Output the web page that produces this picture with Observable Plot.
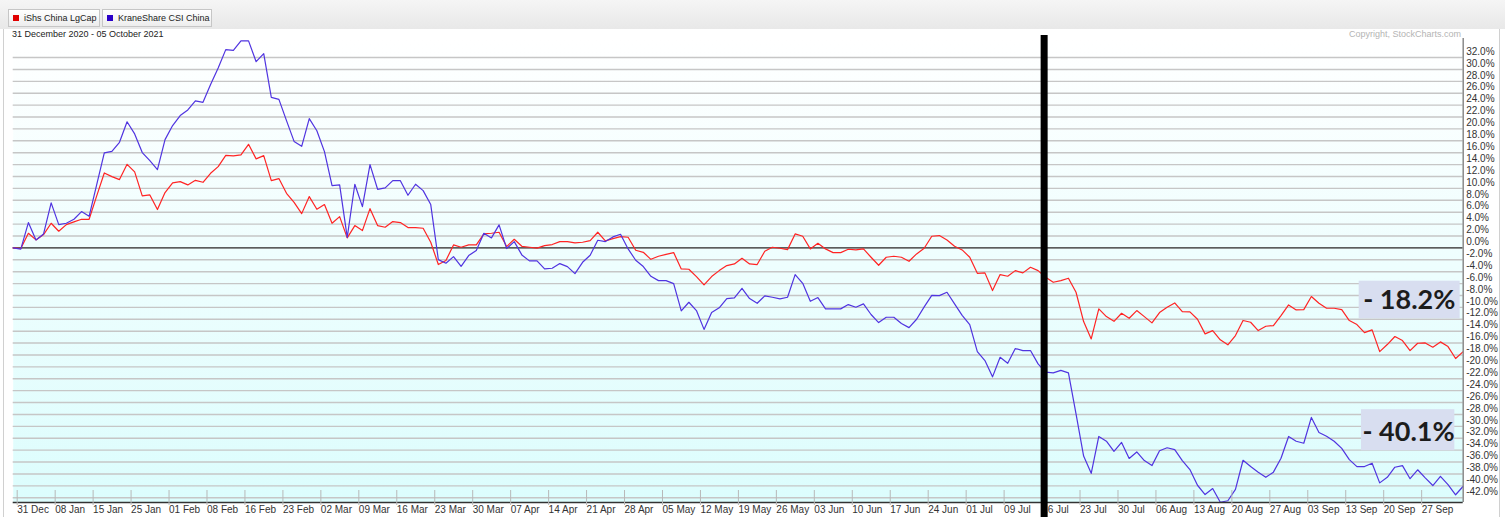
<!DOCTYPE html>
<html><head><meta charset="utf-8">
<script src="https://cdn.jsdelivr.net/npm/d3@7"></script>
<script src="https://cdn.jsdelivr.net/npm/@observablehq/plot@0.6"></script>
<style>
html,body{margin:0;padding:0;background:#fff;}
body{width:1505px;height:517px;overflow:hidden;position:relative;font-family:"Liberation Sans",Arial,sans-serif;}
#top{position:absolute;left:0;top:0;width:1505px;height:29px;background:linear-gradient(#f5f5f5,#e8e8e8);}
.btn{position:absolute;top:9px;height:18px;border:1px solid #c6c6c6;background:linear-gradient(#ffffff,#ededed);font-size:9px;line-height:16px;color:#222;box-sizing:border-box;padding-left:15px;white-space:nowrap;}
.sw{position:absolute;left:4px;top:5px;width:6px;height:6px;}
#frame{position:absolute;left:3px;top:29px;width:1497px;height:488px;border-left:1px solid #d0d0d0;border-right:1px solid #d0d0d0;box-sizing:border-box;}
#sub{position:absolute;left:12px;top:29px;font-size:9px;color:#222;z-index:2;}
#copy{position:absolute;right:44px;top:29px;font-size:9px;color:#b4b4b4;z-index:2;}
#chart{position:absolute;left:0;top:30px;}
</style>
</head><body>
<div id="top"></div>
<div id="frame"></div>
<div id="legend"></div>
<div id="sub"></div>
<div id="copy"></div>
<div id="chart"></div>
<script>
// ---- data (percent change since 31 Dec 2020, one value per trading day) ----
const seriesNames = ["iShs China LgCap", "KraneShare CSI China"];
const seriesColors = ["#ff2424", "#5034e0"];
const swatchColors = ["#e00000", "#2a00c8"];
const subtitle = "31 December 2020 - 05 October 2021";
const copyright = "Copyright, StockCharts.com";

const lgcap = [0,-0.1,2.46,1.34,2.24,4.14,2.8,3.92,4.37,4.81,4.81,8.74,12.6,11.98,11.48,14.05,12.77,8.74,8.9,6.44,
9.3,10.92,11.14,10.59,11.36,11.03,12.54,13.66,15.56,15.46,15.63,17.41,14.96,15.51,11.31,11.65,9.18,7.66,5.76,8.62,
6.49,7.28,4.14,5.26,1.68,3.75,2.91,6.6,3.75,3.47,4.42,4.25,3.41,3.41,3.3,0.95,-2.8,-2.13,0.5,0.11,
0.5,0.5,2.35,2.46,2.63,0.22,1.45,0.27,0.11,-0.03,0.39,0.56,1.06,1.06,0.84,0.95,1.23,2.63,1.17,1.57,
1.9,1.79,-0.4,-0.74,-1.92,-1.41,-1.08,-0.79,-3.53,-3.59,-4.82,-6.22,-4.82,-3.82,-2.97,-2.69,-1.75,-2.69,-2.8,-0.57,
0.11,-0.06,-0.29,2.35,1.96,-0.17,0.78,-0.17,-0.79,-0.79,-0.23,-0.34,-0.17,-1.57,-2.92,-1.57,-1.4,-1.57,-2.25,-1.01,
-0.06,1.96,2.07,1.34,0.28,-0.34,-1.57,-4.27,-4.2,-7.18,-4.49,-4.77,-3.82,-4.2,-3.26,-3.82,-4.94,-5.78,-5.5,-5.1,
-7.46,-12.39,-15.3,-10.25,-11.55,-12.34,-10.99,-11.83,-10.54,-11.55,-12.6,-10.87,-9.98,-9.25,-10.71,-10.76,-12.0,-14.45,-13.9,-15.46,
-16.3,-14.74,-12.2,-12.5,-13.9,-13.17,-13.06,-11.38,-9.58,-10.42,-10.37,-8.18,-9.31,-10.15,-10.15,-10.37,-12.22,-12.89,-14.24,-13.78,
-17.43,-16.25,-14.9,-15.58,-17.26,-16.03,-15.97,-16.7,-15.8,-16.59,-18.6,-17.43];

const krane = [0,-0.22,4.25,1.34,2.35,7.56,3.92,4.14,4.81,6.1,5.31,10.64,15.97,16.24,17.75,21.2,19.16,16.02,14.67,13.16,
18.2,20.56,22.24,23.19,24.7,24.47,27.45,30.25,33.33,33.2,34.8,34.8,31.3,32.66,25.3,24.97,21.4,17.9,17.07,21.73,
19.7,16.18,10.47,10.59,1.78,10.7,6.94,14.0,9.85,10.08,11.3,11.3,8.85,10.7,9.63,7.28,-1.97,-2.58,-1.46,-3.1,
-1.29,-0.45,2.46,1.68,3.87,-0.11,1.06,-1.18,-2.18,-2.18,-3.53,-3.42,-2.64,-3.14,-4.32,-2.42,-1.24,1.28,1.06,1.85,
2.29,-0.17,-2.08,-3.14,-4.77,-5.5,-5.5,-6.0,-10.6,-9.14,-10.54,-13.7,-10.87,-10.08,-8.52,-8.4,-6.79,-8.52,-9.31,-8.07,
-8.3,-8.57,-8.3,-4.49,-5.95,-8.97,-8.35,-10.25,-10.25,-10.25,-9.53,-9.98,-9.41,-11.2,-12.55,-11.66,-11.66,-12.72,-13.4,-12.0,
-9.92,-7.97,-8.02,-7.46,-9.41,-11.33,-12.89,-17.43,-18.94,-21.68,-18.39,-19.4,-16.92,-17.26,-17.26,-19.5,-20.9,-21.0,-20.6,-21.0,
-27.9,-35.0,-37.9,-31.7,-32.5,-34.2,-32.7,-35.4,-34.3,-35.75,-36.6,-34.1,-33.6,-33.9,-35.75,-37.26,-39.9,-41.46,-40.45,-42.76,
-42.5,-40.6,-35.7,-36.76,-37.7,-38.56,-37.7,-35.36,-31.7,-32.5,-32.84,-28.5,-31.04,-31.66,-32.5,-33.7,-35.6,-36.76,-36.76,-36.2,
-39.5,-38.56,-36.87,-36.6,-38.8,-37.3,-38.66,-39.95,-38.4,-39.8,-41.5,-40.07];

// x-axis labels, one every 5 trading days starting at day 0
const tickLabels = ["31 Dec","08 Jan","15 Jan","25 Jan","01 Feb","08 Feb","16 Feb","23 Feb","02 Mar","09 Mar",
"16 Mar","23 Mar","30 Mar","07 Apr","14 Apr","21 Apr","28 Apr","05 May","12 May","19 May","26 May","03 Jun",
"10 Jun","17 Jun","24 Jun","01 Jul","09 Jul","16 Jul","23 Jul","30 Jul","06 Aug","13 Aug","20 Aug","27 Aug",
"03 Sep","13 Sep","20 Sep","27 Sep"];
const tickStep = 5;
const yTicks = d3.range(32, -43, -2);
const annotationLabels = ["- 18.2%", "- 40.1%"];

// ---- header ----
const legend = document.getElementById("legend");
const btnLeft = [8, 102], btnWidth = [92, 110];
seriesNames.forEach((n, k) => {
  const b = document.createElement("div");
  b.className = "btn";
  b.style.left = btnLeft[k] + "px";
  b.style.width = btnWidth[k] + "px";
  b.textContent = n;
  const s = document.createElement("span");
  s.className = "sw";
  s.style.background = swatchColors[k];
  b.appendChild(s);
  legend.appendChild(b);
});
document.getElementById("sub").textContent = subtitle;
document.getElementById("copy").textContent = copyright;

// ---- chart ----
const lgData = lgcap.map((v, i) => ({i, v}));
const krData = krane.map((v, i) => ({i, v}));
const last = lgcap.length - 1;
const tickIdx = tickLabels.map((_, k) => k * tickStep);
const yMin = -42.8, yMax = 35.2;

const chart = Plot.plot({
  width: 1505, height: 487,
  marginLeft: 12.7, marginRight: 42.3, marginTop: 8, marginBottom: 15,
  x: {type: "linear", domain: [0, last], axis: null, label: null},
  y: {domain: [yMin, yMax], axis: null, label: null},
  style: {background: "transparent", fontFamily: "'Liberation Sans', Arial, sans-serif", overflow: "visible"},
  marks: [
    Plot.frame({fill: "url(#bgGrad)", stroke: null}),
    Plot.ruleY(yTicks, {stroke: "#c6c6c6", strokeWidth: 1.4}),
    Plot.ruleY([0], {stroke: "#111", strokeWidth: 1}),
    Plot.line(lgData, {x: "i", y: "v", stroke: seriesColors[0], strokeWidth: 1.2}),
    Plot.line(krData, {x: "i", y: "v", stroke: seriesColors[1], strokeWidth: 1.2}),
    Plot.ruleX([last], {stroke: "#8a8a8a", strokeWidth: 1.5}),
    Plot.ruleY([yMin], {stroke: "#333", strokeWidth: 1.5}),
    Plot.axisY(yTicks, {anchor: "right", label: null, tickSize: 0, tickPadding: 3, dy: -6, fontSize: 10, fill: "#333",
      tickFormat: d => d.toFixed(1) + "%"}),
    Plot.axisX(tickIdx, {anchor: "bottom", label: null, tickSize: 15, tickPadding: 0, dy: -12, dx: 4, textAnchor: "start",
      stroke: "#b8b8b8", fill: "#333", fontSize: 10, tickFormat: d => tickLabels[d / tickStep]}),
    Plot.ruleX([135.8], {y1: 35.7, y2: -45.5, stroke: "#000", strokeWidth: 7}),
    Plot.rect(annotationLabels, {x1: [177.3, 177.6], x2: [190.6, 189.9], y1: [-5.6, -27.2], y2: [-11.9, -34.1], fill: "#d8def0"}),
    Plot.text(annotationLabels, {x: [183.9, 183.8], y: [-8.9, -31.0], text: d => d, fontSize: 27, fontWeight: 700,
      fill: "#1c1c1c", fontFamily: "Lato, 'Liberation Sans', sans-serif"})
  ]
});

const ns = "http://www.w3.org/2000/svg";
const defs = document.createElementNS(ns, "defs");
const grad = document.createElementNS(ns, "linearGradient");
grad.setAttribute("id", "bgGrad");
grad.setAttribute("x1", "0"); grad.setAttribute("y1", "0");
grad.setAttribute("x2", "0"); grad.setAttribute("y2", "1");
[["0", "#ffffff"], ["1", "#dcfdfd"]].forEach(([o, c]) => {
  const s = document.createElementNS(ns, "stop");
  s.setAttribute("offset", o); s.setAttribute("stop-color", c);
  grad.appendChild(s);
});
defs.appendChild(grad);
chart.insertBefore(defs, chart.firstChild);
document.getElementById("chart").appendChild(chart);
</script>
</body></html>
